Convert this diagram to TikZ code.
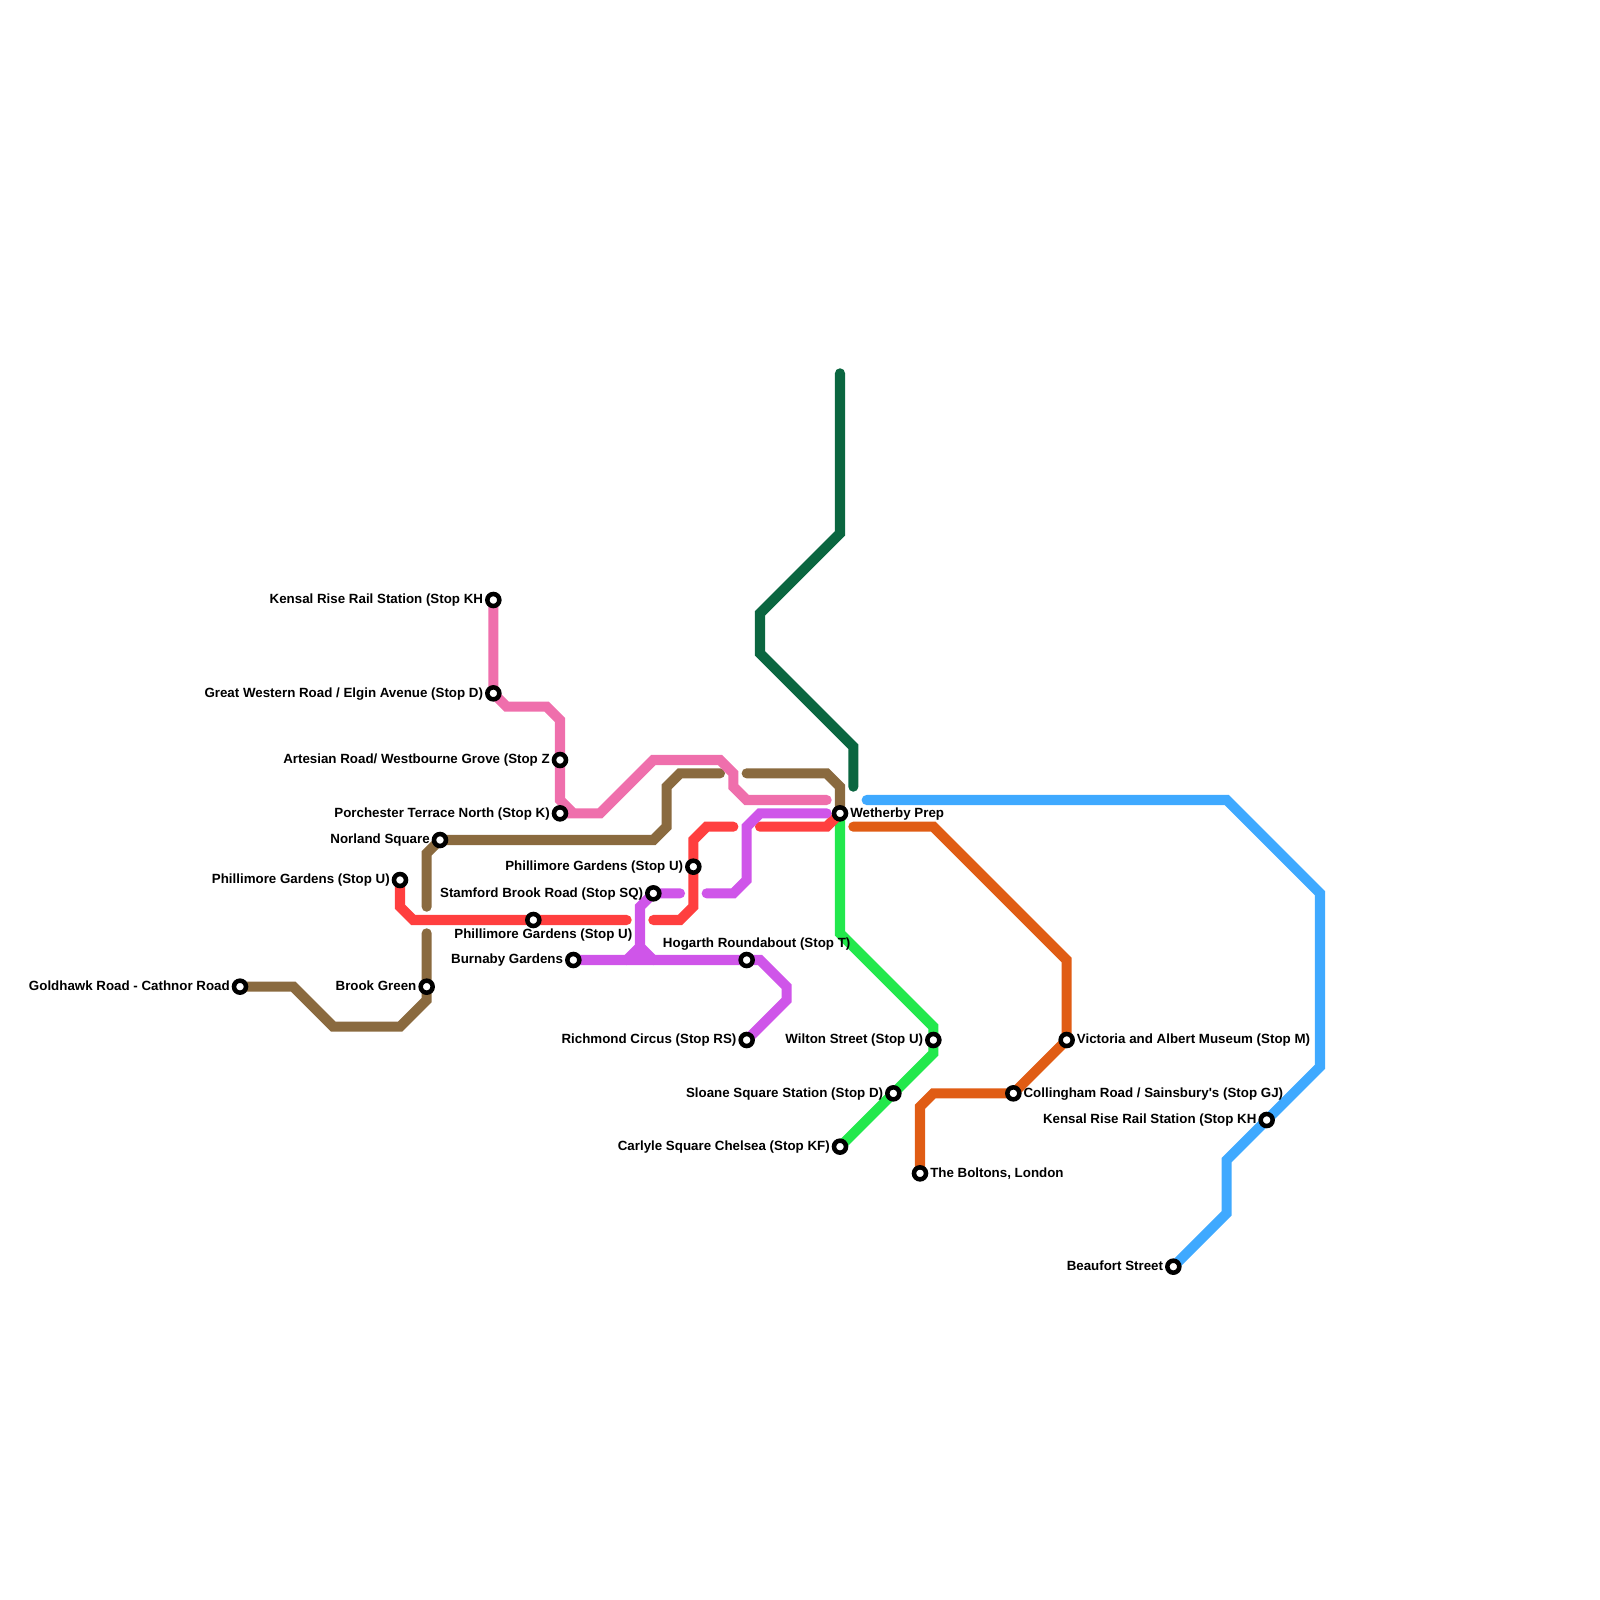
\documentclass[tikz,border=0pt]{standalone}
\usepackage{fontspec}
\usetikzlibrary{backgrounds}
\setmainfont{Liberation Sans}
\definecolor{cDark}{HTML}{0A6640}
\definecolor{cBlue}{HTML}{3FA9FF}
\definecolor{cOrange}{HTML}{E05C14}
\definecolor{cGreen}{HTML}{22E84C}
\definecolor{cRed}{HTML}{FF3F3F}
\definecolor{cPurple}{HTML}{CF55E9}
\definecolor{cPink}{HTML}{EF6FAC}
\definecolor{cBrown}{HTML}{8A6A3F}
\tikzset{
  metro/.style={line width=7.6pt,line cap=round,line join=miter},
  stn/.style={circle,draw=black,fill=white,line width=3.4pt,minimum size=9pt,inner sep=0pt},
  lbl/.style={font=\bfseries\fontsize{10pt}{11pt}\selectfont,inner sep=0pt,text=black},
  ll/.style={lbl,anchor=base east},
  lr/.style={lbl,anchor=base west},
  lc/.style={lbl,anchor=base}
}
\newcommand{\lleft}[2]{\node[ll] (#1L) at ([xshift=-7.5pt,yshift=-2.8pt]#1.center) {#2};}
\newcommand{\lright}[2]{\node[lr] (#1L) at ([xshift=7.5pt,yshift=-2.8pt]#1.center) {#2};}
\begin{document}
\begin{tikzpicture}[x=10pt,y=-10pt]
\useasboundingbox (0,0) rectangle (120,120);
% stations
\node[stn] (kensalA) at (37,45) {};
\node[stn] (western) at (37,52) {};
\node[stn] (artesian) at (42,57) {};
\node[stn] (porchester) at (42,61) {};
\node[stn] (norland) at (33,63) {};
\node[stn] (phillA) at (30,66) {};
\node[stn] (phillB) at (40,69) {};
\node[stn] (stamford) at (49,67) {};
\node[stn] (phillC) at (52,65) {};
\node[stn] (burnaby) at (43,72) {};
\node[stn] (hogarth) at (56,72) {};
\node[stn] (richmond) at (56,78) {};
\node[stn] (wetherby) at (63,61) {};
\node[stn] (goldhawk) at (18,74) {};
\node[stn] (brook) at (32,74) {};
\node[stn] (wilton) at (70,78) {};
\node[stn] (sloane) at (67,82) {};
\node[stn] (carlyle) at (63,86) {};
\node[stn] (boltons) at (69,88) {};
\node[stn] (collingham) at (76,82) {};
\node[stn] (victoria) at (80,78) {};
\node[stn] (kensalB) at (95,84) {};
\node[stn] (beaufort) at (88,95) {};
% labels
\lleft{kensalA}{Kensal Rise Rail Station (Stop KH}
\lleft{western}{Great Western Road / Elgin Avenue (Stop D)}
\lleft{artesian}{Artesian Road/ Westbourne Grove (Stop Z}
\lleft{porchester}{Porchester Terrace North (Stop K)}
\lleft{norland}{Norland Square}
\lleft{phillA}{Phillimore Gardens (Stop U)}
\lleft{stamford}{Stamford Brook Road (Stop SQ)}
\lleft{phillC}{Phillimore Gardens (Stop U)}
\lleft{burnaby}{Burnaby Gardens}
\lleft{richmond}{Richmond Circus (Stop RS)}
\lleft{goldhawk}{Goldhawk Road - Cathnor Road}
\lleft{brook}{Brook Green}
\lleft{wilton}{Wilton Street (Stop U)}
\lleft{sloane}{Sloane Square Station (Stop D)}
\lleft{carlyle}{Carlyle Square Chelsea (Stop KF)}
\lleft{kensalB}{Kensal Rise Rail Station (Stop KH}
\lleft{beaufort}{Beaufort Street}
\lright{wetherby}{Wetherby Prep}
\lright{boltons}{The Boltons, London}
\lright{collingham}{Collingham Road / Sainsbury\textquotesingle s (Stop GJ)}
\lright{victoria}{Victoria and Albert Museum (Stop M)}
\node[lc] (phillBL) at ([xshift=7.5pt,yshift=-14pt]phillB.center) {Phillimore Gardens (Stop U)};
\node[lc] (hogarthL) at ([xshift=7.5pt,yshift=9.7pt]hogarth.center) {Hogarth Roundabout (Stop T)};
% free ends
\coordinate (dStart) at (63,28); \coordinate (dEnd) at (64,59);
\coordinate (bStart) at (65,60);
\coordinate (oStart) at (64,62);
\coordinate (rA) at (47,69); \coordinate (rB) at (49,69); \coordinate (rC) at (55,62); \coordinate (rD) at (57,62);
\coordinate (uA) at (51,67); \coordinate (uB) at (53,67); \coordinate (uC) at (62,61);
\coordinate (kEnd) at (62,60);
\coordinate (wA) at (32,70); \coordinate (wB) at (32,68); \coordinate (wC) at (54,58); \coordinate (wD) at (56,58);
% lines
\begin{scope}[on background layer]
\draw[metro,cDark] (dStart) -- (63,40) -- (57,46) -- (57,49) -- (64,56) -- (dEnd);
\draw[metro,cBlue] (bStart) -- (92,60) -- (99,67) -- (99,80) -- (kensalB.center) -- (92,87) -- (92,91) -- (beaufort.center);
\draw[metro,cOrange] (oStart) -- (70,62) -- (80,72) -- (victoria.center) -- (collingham.center) -- (70,82) -- (69,83) -- (boltons.center);
\draw[metro,cGreen] (wetherby.center) -- (63,70) -- (70,77) -- (wilton.center) -- (70,79) -- (sloane.center) -- (carlyle.center);
\draw[metro,cBrown] (goldhawk.center) -- (22,74) -- (25,77) -- (30,77) -- (32,75) -- (brook.center) -- (wA);
\draw[metro,cBrown] (wB) -- (32,64) -- (norland.center) -- (49,63) -- (50,62) -- (50,59) -- (51,58) -- (wC);
\draw[metro,cBrown] (wD) -- (62,58) -- (63,59) -- (wetherby.center);
\draw[metro,cRed] (phillA.center) -- (30,68) -- (31,69) -- (phillB.center) -- (rA);
\draw[metro,cRed] (rB) -- (51,69) -- (52,68) -- (phillC.center) -- (52,63) -- (53,62) -- (rC);
\draw[metro,cRed] (rD) -- (62,62) -- (wetherby.center);
\draw[metro,cPurple] (burnaby.center) -- (hogarth.center) -- (57,72) -- (59,74) -- (59,75) -- (richmond.center);
\draw[metro,cPurple] (47,72) -- (48,71) -- (48,68) -- (stamford.center) -- (uA);
\draw[metro,cPurple] (48,71) -- (49,72);
\fill[cPurple] (47,72) -- (48,71) -- (49,72) -- cycle;
\draw[metro,cPurple] (uB) -- (55,67) -- (56,66) -- (56,62) -- (57,61) -- (uC);
\draw[metro,cPink] (kensalA.center) -- (western.center) -- (38,53) -- (41,53) -- (42,54) -- (artesian.center) -- (42,60) -- (43,61) -- (porchester.center) -- (45,61) -- (49,57) -- (54,57) -- (55,58) -- (55,59) -- (56,60) -- (kEnd);
\end{scope}
\end{tikzpicture}
\end{document}
